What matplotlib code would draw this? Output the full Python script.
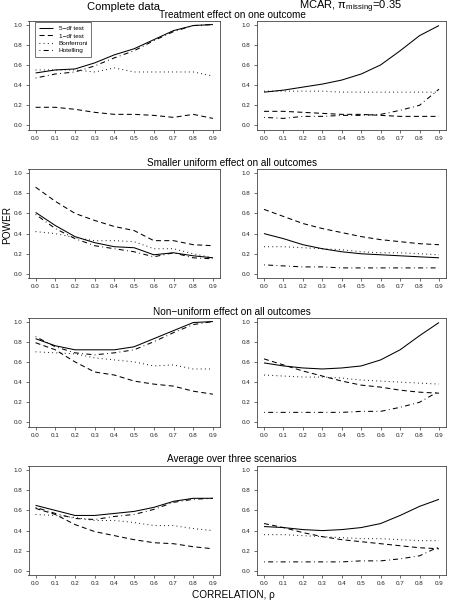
import matplotlib
matplotlib.use("Agg")
import matplotlib.pyplot as plt

plt.rcParams['font.family'] = ['Liberation Sans', 'DejaVu Sans']
plt.rcParams['mathtext.fontset'] = 'custom'
plt.rcParams['mathtext.rm'] = 'Liberation Sans'
plt.rcParams['mathtext.it'] = 'Liberation Sans'
plt.rcParams['lines.scale_dashes'] = False

# ---------------- data ----------------
rho = [0.0, 0.1, 0.2, 0.3, 0.4, 0.5, 0.6, 0.7, 0.8, 0.9]
rho_ticks = [0.0, 0.1, 0.2, 0.3, 0.4, 0.5, 0.6, 0.7, 0.8, 0.9]
power_ticks = [0.0, 0.2, 0.4, 0.6, 0.8, 1.0]

col_titles = ["Complete data", r"MCAR, π$_{\mathrm{missing}}$=0.35"]
row_titles = ["Treatment effect on one outcome",
              "Smaller uniform effect on all outcomes",
              "Non\u2212uniform effect on all outcomes",
              "Average over three scenarios"]
method_labels = ["5\u2212df test", "1\u2212df test", "Bonferroni", "Hotelling"]

# Row 1: treatment effect on one outcome
cd_one_5df  = [0.52, 0.55, 0.56, 0.62, 0.70, 0.76, 0.85, 0.94, 0.99, 1.00]
cd_one_1df  = [0.18, 0.18, 0.16, 0.13, 0.11, 0.11, 0.10, 0.08, 0.11, 0.07]
cd_one_bonf = [0.55, 0.55, 0.55, 0.53, 0.57, 0.53, 0.53, 0.53, 0.53, 0.49]
cd_one_hot  = [0.47, 0.51, 0.53, 0.59, 0.67, 0.74, 0.84, 0.93, 0.99, 1.00]
mc_one_5df  = [0.33, 0.35, 0.38, 0.41, 0.45, 0.51, 0.60, 0.74, 0.89, 0.99]
mc_one_1df  = [0.14, 0.14, 0.13, 0.12, 0.11, 0.11, 0.10, 0.09, 0.09, 0.09]
mc_one_bonf = [0.34, 0.34, 0.34, 0.34, 0.33, 0.33, 0.33, 0.33, 0.33, 0.33]
mc_one_hot  = [0.08, 0.07, 0.09, 0.09, 0.10, 0.10, 0.11, 0.15, 0.20, 0.36]

# Row 2: smaller uniform effect on all outcomes
cd_uni_5df  = [0.61, 0.48, 0.37, 0.31, 0.27, 0.26, 0.19, 0.21, 0.18, 0.16]
cd_uni_1df  = [0.86, 0.72, 0.60, 0.53, 0.47, 0.43, 0.33, 0.33, 0.29, 0.28]
cd_uni_bonf = [0.42, 0.40, 0.36, 0.33, 0.33, 0.32, 0.25, 0.25, 0.20, 0.16]
cd_uni_hot  = [0.59, 0.45, 0.35, 0.28, 0.25, 0.22, 0.17, 0.21, 0.16, 0.15]
mc_uni_5df  = [0.40, 0.35, 0.29, 0.25, 0.22, 0.20, 0.19, 0.18, 0.17, 0.16]
mc_uni_1df  = [0.64, 0.57, 0.50, 0.45, 0.41, 0.37, 0.34, 0.32, 0.30, 0.29]
mc_uni_bonf = [0.27, 0.27, 0.26, 0.25, 0.24, 0.22, 0.21, 0.21, 0.20, 0.19]
mc_uni_hot  = [0.09, 0.08, 0.07, 0.07, 0.06, 0.06, 0.06, 0.06, 0.06, 0.06]

# Row 3: non-uniform effect on all outcomes
cd_non_5df  = [0.83, 0.76, 0.72, 0.72, 0.72, 0.75, 0.83, 0.91, 0.99, 1.00]
cd_non_1df  = [0.79, 0.72, 0.60, 0.50, 0.47, 0.41, 0.38, 0.36, 0.31, 0.28]
cd_non_bonf = [0.70, 0.69, 0.68, 0.64, 0.62, 0.60, 0.56, 0.57, 0.53, 0.53]
cd_non_hot  = [0.85, 0.75, 0.69, 0.67, 0.69, 0.72, 0.80, 0.89, 0.97, 1.00]
mc_non_5df  = [0.59, 0.56, 0.54, 0.53, 0.54, 0.56, 0.62, 0.72, 0.86, 0.99]
mc_non_1df  = [0.63, 0.57, 0.51, 0.46, 0.41, 0.37, 0.35, 0.32, 0.30, 0.29]
mc_non_bonf = [0.47, 0.46, 0.45, 0.45, 0.44, 0.42, 0.41, 0.40, 0.39, 0.38]
mc_non_hot  = [0.10, 0.10, 0.10, 0.10, 0.10, 0.11, 0.11, 0.15, 0.20, 0.31]

# Row 4: average over three scenarios
cd_avg_5df  = [0.65, 0.60, 0.55, 0.55, 0.57, 0.59, 0.63, 0.69, 0.72, 0.72]
cd_avg_1df  = [0.62, 0.56, 0.46, 0.39, 0.35, 0.31, 0.28, 0.27, 0.24, 0.22]
cd_avg_bonf = [0.56, 0.55, 0.53, 0.50, 0.50, 0.48, 0.45, 0.45, 0.42, 0.40]
cd_avg_hot  = [0.63, 0.57, 0.52, 0.51, 0.54, 0.56, 0.61, 0.68, 0.71, 0.72]
mc_avg_5df  = [0.44, 0.43, 0.41, 0.40, 0.41, 0.43, 0.47, 0.55, 0.64, 0.71]
mc_avg_1df  = [0.47, 0.43, 0.38, 0.34, 0.31, 0.29, 0.27, 0.25, 0.23, 0.22]
mc_avg_bonf = [0.36, 0.36, 0.35, 0.34, 0.33, 0.32, 0.32, 0.31, 0.30, 0.30]
mc_avg_hot  = [0.09, 0.09, 0.09, 0.09, 0.09, 0.10, 0.10, 0.12, 0.15, 0.24]

panels = [
    [(cd_one_5df, cd_one_1df, cd_one_bonf, cd_one_hot), (mc_one_5df, mc_one_1df, mc_one_bonf, mc_one_hot)],
    [(cd_uni_5df, cd_uni_1df, cd_uni_bonf, cd_uni_hot), (mc_uni_5df, mc_uni_1df, mc_uni_bonf, mc_uni_hot)],
    [(cd_non_5df, cd_non_1df, cd_non_bonf, cd_non_hot), (mc_non_5df, mc_non_1df, mc_non_bonf, mc_non_hot)],
    [(cd_avg_5df, cd_avg_1df, cd_avg_bonf, cd_avg_hot), (mc_avg_5df, mc_avg_1df, mc_avg_bonf, mc_avg_hot)],
]

# ---------------- layout ----------------
W, H = 449, 601
fig = plt.figure(figsize=(W / 100, H / 100), dpi=100)
fig.patch.set_facecolor('white')

def rect(x0, x1, y0, y1):
    return [x0 / W, 1 - y1 / H, (x1 - x0) / W, (y1 - y0) / H]

col_x = [(28.5, 220.0), (257.0, 446.0)]
row_top = [20.5, 169.0, 317.5, 466.0]
box_h = 109.0

styles = [
    dict(linestyle='-'),
    dict(linestyle=(0, (3.6, 2.4))),
    dict(linestyle=(0, (0.6, 2.4))),
    dict(linestyle=(0, (0.6, 2.4, 3.6, 2.4))),
]

lw = 0.75
for r in range(4):
    for c in range(2):
        x0, x1 = col_x[c]
        y0 = row_top[r]
        ax = fig.add_axes(rect(x0, x1, y0, y0 + box_h))
        series = panels[r][c]
        for k, s in enumerate(series):
            ax.plot(rho, s, color='black', lw=lw, label=method_labels[k],
                    solid_capstyle='butt', dash_capstyle='butt', **styles[k])
        ax.set_xlim(-0.036, 0.936)
        ax.set_ylim(-0.04, 1.04)
        ax.set_xticks(rho_ticks)
        ax.set_xticklabels([f"{t:.1f}" for t in rho_ticks])
        ax.set_yticks(power_ticks)
        ax.set_yticklabels([f"{t:.1f}" for t in power_ticks])
        ax.tick_params(axis='both', direction='out', length=2.2, width=0.5,
                       labelsize=4.5, pad=2.4, color='#333333', labelcolor='#222222')
        for sp in ax.spines.values():
            sp.set_linewidth(0.6)
            sp.set_color('#444444')
        if r == 0 and c == 0:
            leg = ax.legend(loc='upper left', bbox_to_anchor=(0.035, 0.985),
                            fontsize=4.6, frameon=True, fancybox=False,
                            handlelength=2.3, handletextpad=0.8,
                            borderpad=0.55, labelspacing=0.3, borderaxespad=0.0)
            leg.get_frame().set_edgecolor('#333333')
            leg.get_frame().set_linewidth(0.6)

# column titles
fig.text(124.0 / W, 1 - 9.5 / H, col_titles[0], ha='center', va='baseline', fontsize=8.0)
fig.text(351.0 / W, 1 - 9.5 / H, col_titles[1], ha='center', va='baseline', fontsize=8.0)

# row titles
row_title_y = [15.5, 163.5, 312.0, 459.5]
for r in range(4):
    fig.text(232.0 / W, 1 - row_title_y[r] / H, row_titles[r], ha='center',
             va='center', fontsize=7.2)

# axis labels
fig.text(233.0 / W, 1 - 595.0 / H, "CORRELATION, ρ", ha='center', va='center', fontsize=7.2)
fig.text(7.5 / W, 1 - 225.0 / H, "POWER", ha='center', va='center', rotation=90, fontsize=7.2)

fig.savefig("out.png", dpi=100)
